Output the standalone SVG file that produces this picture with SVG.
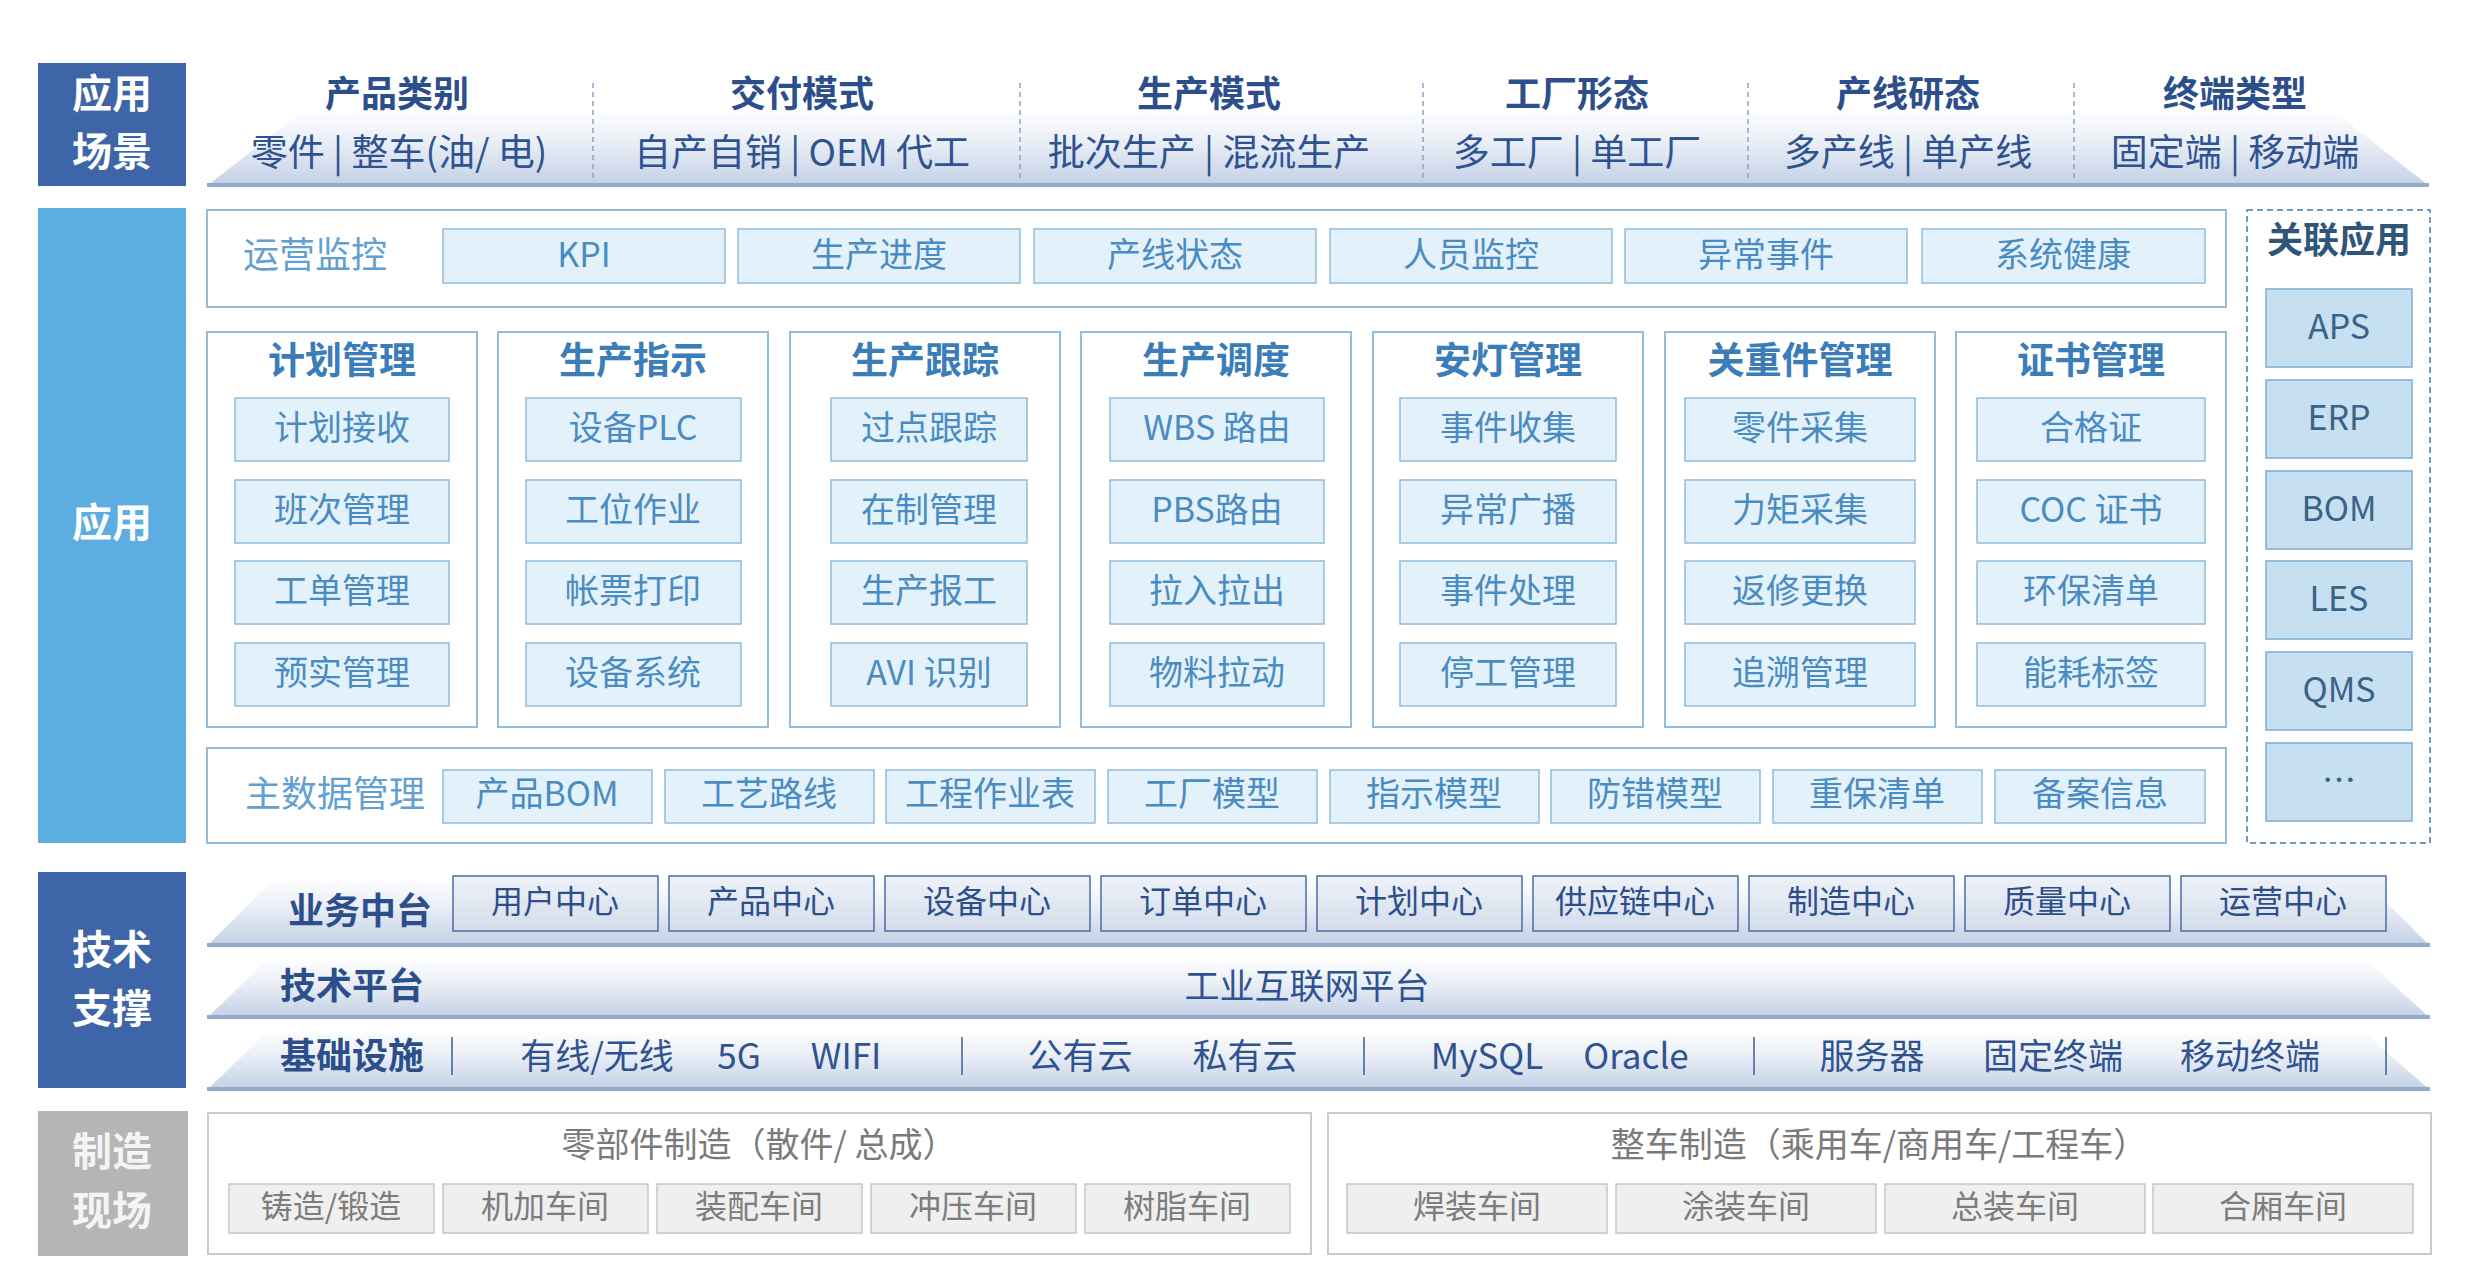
<svg xmlns="http://www.w3.org/2000/svg" width="2472" height="1286" viewBox="0 0 2472 1286">
<defs>
<linearGradient id="band" x1="0" y1="0" x2="0" y2="1">
<stop offset="0" stop-color="#ffffff"/>
<stop offset="0.45" stop-color="#e9eef6"/>
<stop offset="1" stop-color="#c2cfe5"/>
</linearGradient>
<linearGradient id="tbox" x1="0" y1="0" x2="0" y2="1">
<stop offset="0" stop-color="#eef2f8"/>
<stop offset="1" stop-color="#d4ddec"/>
</linearGradient>
<style>
text{font-family:"Noto Sans CJK SC","Noto Sans",sans-serif;text-anchor:middle;dominant-baseline:central;transform:translateY(-4px)}
.side{font-size:40px;font-weight:bold;fill:#ffffff}
.sideg{font-size:40px;font-weight:bold;fill:#f4f4f4}
.dk{fill:#3d65a7}
.ttl{font-size:36px;font-weight:bold;fill:#2c4f8c}
.sub{font-size:37px;fill:#2f5391}
.sep{stroke:#8fa2c2;stroke-width:1.5;stroke-dasharray:5 4}
.band{fill:url(#band)}
.bline{fill:#95aacb}
.cont{fill:#ffffff;stroke:#93bddc;stroke-width:2}
.lbl{font-size:36px;fill:#62a0d2}
.mt{font-size:37px;font-weight:bold;fill:#3b7db8}
.bx{fill:#e3f1fb;stroke:#8ebcdc;stroke-width:1.5}
.bt{font-size:34px;fill:#4a8cc2}
.rbx{fill:#c6dff1;stroke:#7badd2;stroke-width:1.5}
.rt{font-size:34px;fill:#3a6387}
.rttl{font-size:36px;font-weight:bold;fill:#2f5679}
.tb{fill:url(#tbox);stroke:#4c6ea6;stroke-width:1.5}
.tt{font-size:32px;fill:#2c4f8c}
.tl{font-size:36px;font-weight:bold;fill:#2c4f8c}
.tx{font-size:35px;fill:#2f5391}
.vs{stroke:#3d5d94;stroke-width:1.5}
.gc{fill:#ffffff;stroke:#cacaca;stroke-width:2}
.gt{font-size:34px;fill:#7a7a7a}
.gb{fill:#efefef;stroke:#c6c6c6;stroke-width:1.5}
.gbt{font-size:32px;fill:#7d7d7d}
</style>
</defs>
<rect width="2472" height="1286" fill="#ffffff"/>

<g id="scene">
<rect class="dk" x="38" y="63" width="148" height="123"/>
<text class="side" x="112" y="95">应用</text>
<text class="side" x="112" y="153">场景</text>
<polygon class="band" points="207,186 306,108 2330,108 2429,186"/>
<rect class="bline" x="207" y="183" width="2222" height="4"/>
<line class="sep" x1="593" y1="83" x2="593" y2="178"/>
<line class="sep" x1="1020" y1="83" x2="1020" y2="178"/>
<line class="sep" x1="1423" y1="83" x2="1423" y2="178"/>
<line class="sep" x1="1748" y1="83" x2="1748" y2="178"/>
<line class="sep" x1="2074" y1="83" x2="2074" y2="178"/>
<g id="scene-product"><text class="ttl" x="397" y="95">产品类别</text><text class="sub" x="399" y="154">零件 | 整车(油/ 电)</text></g>
<g id="scene-delivery"><text class="ttl" x="802" y="95">交付模式</text><text class="sub" x="802" y="154">自产自销 | OEM 代工</text></g>
<g id="scene-mode"><text class="ttl" x="1209" y="95">生产模式</text><text class="sub" x="1209" y="154">批次生产 | 混流生产</text></g>
<g id="scene-factory"><text class="ttl" x="1577" y="95">工厂形态</text><text class="sub" x="1577" y="154">多工厂 | 单工厂</text></g>
<g id="scene-line"><text class="ttl" x="1908" y="95">产线研态</text><text class="sub" x="1908" y="154">多产线 | 单产线</text></g>
<g id="scene-terminal"><text class="ttl" x="2235" y="95">终端类型</text><text class="sub" x="2235" y="154">固定端 | 移动端</text></g>
</g>

<g id="app">
<rect x="38" y="208" width="148" height="635" fill="#5daee0"/>
<text class="side" x="112" y="524">应用</text>
</g>

<g id="monitor">
<rect class="cont" x="207" y="210" width="2019" height="97"/>
<text class="lbl" x="315" y="256">运营监控</text>
<rect class="bx" x="443" y="229" width="282" height="54"/><text class="bt" x="584" y="256">KPI</text>
<rect class="bx" x="738" y="229" width="282" height="54"/><text class="bt" x="879" y="256">生产进度</text>
<rect class="bx" x="1034" y="229" width="282" height="54"/><text class="bt" x="1175" y="256">产线状态</text>
<rect class="bx" x="1330" y="229" width="282" height="54"/><text class="bt" x="1471" y="256">人员监控</text>
<rect class="bx" x="1625" y="229" width="282" height="54"/><text class="bt" x="1766" y="256">异常事件</text>
<rect class="bx" x="1922" y="229" width="283" height="54"/><text class="bt" x="2063" y="256">系统健康</text>
</g>

<g id="mod-plan">
<rect class="cont" x="207" y="332" width="270" height="395"/>
<text class="mt" x="342" y="362">计划管理</text>
<rect class="bx" x="235" y="398" width="214" height="63"/><text class="bt" x="342" y="429">计划接收</text>
<rect class="bx" x="235" y="480" width="214" height="63"/><text class="bt" x="342" y="511">班次管理</text>
<rect class="bx" x="235" y="561" width="214" height="63"/><text class="bt" x="342" y="592">工单管理</text>
<rect class="bx" x="235" y="643" width="214" height="63"/><text class="bt" x="342" y="674">预实管理</text>
</g>
<g id="mod-guide">
<rect class="cont" x="498" y="332" width="270" height="395"/>
<text class="mt" x="633" y="362">生产指示</text>
<rect class="bx" x="526" y="398" width="215" height="63"/><text class="bt" x="633" y="429">设备PLC</text>
<rect class="bx" x="526" y="480" width="215" height="63"/><text class="bt" x="633" y="511">工位作业</text>
<rect class="bx" x="526" y="561" width="215" height="63"/><text class="bt" x="633" y="592">帐票打印</text>
<rect class="bx" x="526" y="643" width="215" height="63"/><text class="bt" x="633" y="674">设备系统</text>
</g>
<g id="mod-track">
<rect class="cont" x="790" y="332" width="270" height="395"/>
<text class="mt" x="925" y="362">生产跟踪</text>
<rect class="bx" x="831" y="398" width="196" height="63"/><text class="bt" x="929" y="429">过点跟踪</text>
<rect class="bx" x="831" y="480" width="196" height="63"/><text class="bt" x="929" y="511">在制管理</text>
<rect class="bx" x="831" y="561" width="196" height="63"/><text class="bt" x="929" y="592">生产报工</text>
<rect class="bx" x="831" y="643" width="196" height="63"/><text class="bt" x="929" y="674">AVI 识别</text>
</g>
<g id="mod-dispatch">
<rect class="cont" x="1081" y="332" width="270" height="395"/>
<text class="mt" x="1216" y="362">生产调度</text>
<rect class="bx" x="1110" y="398" width="214" height="63"/><text class="bt" x="1217" y="429">WBS 路由</text>
<rect class="bx" x="1110" y="480" width="214" height="63"/><text class="bt" x="1217" y="511">PBS路由</text>
<rect class="bx" x="1110" y="561" width="214" height="63"/><text class="bt" x="1217" y="592">拉入拉出</text>
<rect class="bx" x="1110" y="643" width="214" height="63"/><text class="bt" x="1217" y="674">物料拉动</text>
</g>
<g id="mod-andon">
<rect class="cont" x="1373" y="332" width="270" height="395"/>
<text class="mt" x="1508" y="362">安灯管理</text>
<rect class="bx" x="1400" y="398" width="216" height="63"/><text class="bt" x="1508" y="429">事件收集</text>
<rect class="bx" x="1400" y="480" width="216" height="63"/><text class="bt" x="1508" y="511">异常广播</text>
<rect class="bx" x="1400" y="561" width="216" height="63"/><text class="bt" x="1508" y="592">事件处理</text>
<rect class="bx" x="1400" y="643" width="216" height="63"/><text class="bt" x="1508" y="674">停工管理</text>
</g>
<g id="mod-key">
<rect class="cont" x="1665" y="332" width="270" height="395"/>
<text class="mt" x="1800" y="362">关重件管理</text>
<rect class="bx" x="1685" y="398" width="230" height="63"/><text class="bt" x="1800" y="429">零件采集</text>
<rect class="bx" x="1685" y="480" width="230" height="63"/><text class="bt" x="1800" y="511">力矩采集</text>
<rect class="bx" x="1685" y="561" width="230" height="63"/><text class="bt" x="1800" y="592">返修更换</text>
<rect class="bx" x="1685" y="643" width="230" height="63"/><text class="bt" x="1800" y="674">追溯管理</text>
</g>
<g id="mod-cert">
<rect class="cont" x="1956" y="332" width="270" height="395"/>
<text class="mt" x="2091" y="362">证书管理</text>
<rect class="bx" x="1977" y="398" width="228" height="63"/><text class="bt" x="2091" y="429">合格证</text>
<rect class="bx" x="1977" y="480" width="228" height="63"/><text class="bt" x="2091" y="511">COC 证书</text>
<rect class="bx" x="1977" y="561" width="228" height="63"/><text class="bt" x="2091" y="592">环保清单</text>
<rect class="bx" x="1977" y="643" width="228" height="63"/><text class="bt" x="2091" y="674">能耗标签</text>
</g>

<g id="masterdata">
<rect class="cont" x="207" y="748" width="2019" height="95"/>
<text class="lbl" x="335" y="795">主数据管理</text>
<rect class="bx" x="443" y="770" width="209" height="53"/><text class="bt" x="547" y="795">产品BOM</text>
<rect class="bx" x="665" y="770" width="209" height="53"/><text class="bt" x="769" y="795">工艺路线</text>
<rect class="bx" x="886" y="770" width="209" height="53"/><text class="bt" x="990" y="795">工程作业表</text>
<rect class="bx" x="1108" y="770" width="209" height="53"/><text class="bt" x="1212" y="795">工厂模型</text>
<rect class="bx" x="1330" y="770" width="209" height="53"/><text class="bt" x="1434" y="795">指示模型</text>
<rect class="bx" x="1551" y="770" width="209" height="53"/><text class="bt" x="1655" y="795">防错模型</text>
<rect class="bx" x="1773" y="770" width="209" height="53"/><text class="bt" x="1877" y="795">重保清单</text>
<rect class="bx" x="1995" y="770" width="210" height="53"/><text class="bt" x="2100" y="795">备案信息</text>
</g>

<g id="related">
<rect x="2247" y="210" width="183" height="633" fill="none" stroke="#6f9cc0" stroke-width="2" stroke-dasharray="6 4"/>
<text class="rttl" x="2339" y="241">关联应用</text>
<rect class="rbx" x="2266" y="289" width="146" height="78"/><text class="rt" x="2339" y="328">APS</text>
<rect class="rbx" x="2266" y="380" width="146" height="78"/><text class="rt" x="2339" y="419">ERP</text>
<rect class="rbx" x="2266" y="471" width="146" height="78"/><text class="rt" x="2339" y="510">BOM</text>
<rect class="rbx" x="2266" y="561" width="146" height="78"/><text class="rt" x="2339" y="600">LES</text>
<rect class="rbx" x="2266" y="652" width="146" height="78"/><text class="rt" x="2339" y="691">QMS</text>
<rect class="rbx" x="2266" y="743" width="146" height="78"/><text class="rt" x="2339" y="782">…</text>
</g>

<g id="tech">
<rect class="dk" x="38" y="872" width="148" height="216"/>
<text class="side" x="112" y="951">技术</text>
<text class="side" x="112" y="1010">支撑</text>
</g>
<g id="tech-middle">
<polygon class="band" points="207,946 277,876 2360,876 2430,946"/>
<rect class="bline" x="207" y="943" width="2223" height="4"/>
<text class="tl" x="360" y="912">业务中台</text>
<rect class="tb" x="453" y="876" width="205" height="55"/><text class="tt" x="555" y="903">用户中心</text>
<rect class="tb" x="669" y="876" width="205" height="55"/><text class="tt" x="771" y="903">产品中心</text>
<rect class="tb" x="885" y="876" width="205" height="55"/><text class="tt" x="987" y="903">设备中心</text>
<rect class="tb" x="1101" y="876" width="205" height="55"/><text class="tt" x="1203" y="903">订单中心</text>
<rect class="tb" x="1317" y="876" width="205" height="55"/><text class="tt" x="1419" y="903">计划中心</text>
<rect class="tb" x="1533" y="876" width="205" height="55"/><text class="tt" x="1635" y="903">供应链中心</text>
<rect class="tb" x="1749" y="876" width="205" height="55"/><text class="tt" x="1851" y="903">制造中心</text>
<rect class="tb" x="1965" y="876" width="205" height="55"/><text class="tt" x="2067" y="903">质量中心</text>
<rect class="tb" x="2181" y="876" width="205" height="55"/><text class="tt" x="2283" y="903">运营中心</text>
</g>
<g id="tech-platform">
<polygon class="band" points="207,1018 270,957 2363,957 2430,1018"/>
<rect class="bline" x="207" y="1015" width="2223" height="4"/>
<text class="tl" x="352" y="987">技术平台</text>
<text class="tx" x="1307" y="987">工业互联网平台</text>
</g>
<g id="tech-infra">
<polygon class="band" points="207,1090 270,1029 2360,1029 2430,1090"/>
<rect class="bline" x="207" y="1087" width="2223" height="4"/>
<text class="tl" x="352" y="1057">基础设施</text>
<line class="vs" x1="452" y1="1037" x2="452" y2="1075"/>
<line class="vs" x1="962" y1="1037" x2="962" y2="1075"/>
<line class="vs" x1="1364" y1="1037" x2="1364" y2="1075"/>
<line class="vs" x1="1754" y1="1037" x2="1754" y2="1075"/>
<line class="vs" x1="2386" y1="1037" x2="2386" y2="1075"/>
<text class="tx" x="597" y="1057">有线/无线</text>
<text class="tx" x="739" y="1057">5G</text>
<text class="tx" x="846" y="1057">WIFI</text>
<text class="tx" x="1080" y="1057">公有云</text>
<text class="tx" x="1245" y="1057">私有云</text>
<text class="tx" x="1487" y="1057">MySQL</text>
<text class="tx" x="1636" y="1057">Oracle</text>
<text class="tx" x="1872" y="1057">服务器</text>
<text class="tx" x="2053" y="1057">固定终端</text>
<text class="tx" x="2250" y="1057">移动终端</text>
</g>

<g id="site">
<rect x="38" y="1111" width="150" height="145" fill="#b5b5b5"/>
<text class="sideg" x="112" y="1153">制造</text>
<text class="sideg" x="112" y="1212">现场</text>
</g>
<g id="site-parts">
<rect class="gc" x="208" y="1113" width="1103" height="141"/>
<text class="gt" x="759" y="1146">零部件制造（散件/ 总成）</text>
<rect class="gb" x="229" y="1184" width="205" height="49"/><text class="gbt" x="331" y="1208">铸造/锻造</text>
<rect class="gb" x="443" y="1184" width="205" height="49"/><text class="gbt" x="545" y="1208">机加车间</text>
<rect class="gb" x="657" y="1184" width="205" height="49"/><text class="gbt" x="759" y="1208">装配车间</text>
<rect class="gb" x="871" y="1184" width="205" height="49"/><text class="gbt" x="973" y="1208">冲压车间</text>
<rect class="gb" x="1085" y="1184" width="205" height="49"/><text class="gbt" x="1187" y="1208">树脂车间</text>
</g>
<g id="site-vehicle">
<rect class="gc" x="1328" y="1113" width="1103" height="141"/>
<text class="gt" x="1879" y="1146">整车制造（乘用车/商用车/工程车）</text>
<rect class="gb" x="1347" y="1184" width="260" height="49"/><text class="gbt" x="1477" y="1208">焊装车间</text>
<rect class="gb" x="1616" y="1184" width="260" height="49"/><text class="gbt" x="1746" y="1208">涂装车间</text>
<rect class="gb" x="1885" y="1184" width="260" height="49"/><text class="gbt" x="2015" y="1208">总装车间</text>
<rect class="gb" x="2153" y="1184" width="260" height="49"/><text class="gbt" x="2283" y="1208">合厢车间</text>
</g>
<g id="connectors"></g>
</svg>
